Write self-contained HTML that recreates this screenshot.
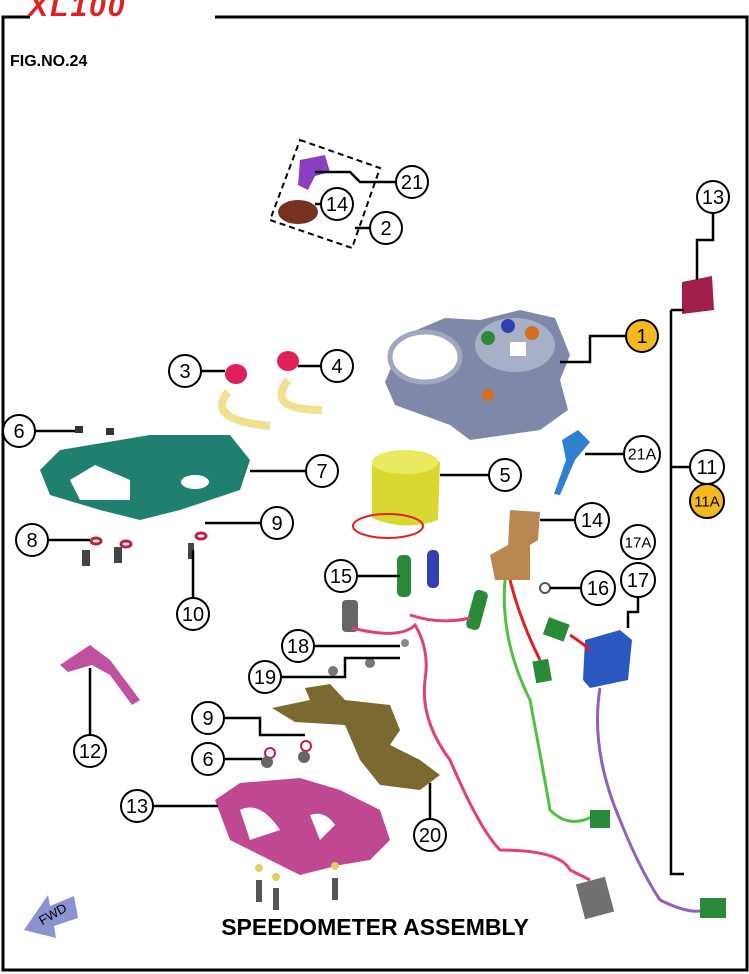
<!DOCTYPE html>
<html><head><meta charset="utf-8"><style>
html,body{margin:0;padding:0;background:#fff}
svg{display:block}
text{font-family:"Liberation Sans",Arial,sans-serif}
.c{fill:#fff;stroke:#000;stroke-width:2}
.t{font-size:20px;text-anchor:middle;dominant-baseline:central}
.l{fill:none;stroke:#000;stroke-width:2.5}
</style></head><body>
<svg width="749" height="974" viewBox="0 0 749 974" xmlns="http://www.w3.org/2000/svg">
<path d="M215 17 H747 V970 H3 V17 H30" fill="none" stroke="#000" stroke-width="3"/>
<text x="28" y="16" font-size="30" font-weight="bold" font-style="italic" fill="#e02020" letter-spacing="2">XL100</text>
<text x="10" y="66" font-size="16" font-weight="bold">FIG.NO.24</text>
<text x="375" y="935" font-size="23" font-weight="bold" text-anchor="middle">SPEEDOMETER ASSEMBLY</text>
<path d="M24 930 L48 895 L50 906 L74 896 L78 918 L54 926 L56 938 Z" fill="#8a92d0"/>
<text x="55" y="918" font-size="13" transform="rotate(-30 55 918)" text-anchor="middle">FWD</text>

<path d="M300 140 L380 168 L352 248 L270 220 Z" fill="none" stroke="#000" stroke-width="2" stroke-dasharray="6,4"/>
<path d="M300 160 L325 155 L330 172 L315 176 L308 190 L298 185 Z" fill="#8a3fc0"/>
<ellipse cx="298" cy="212" rx="20" ry="12" fill="#7a3020"/>
<path d="M682 282 L712 276 L714 310 L682 314 Z" fill="#a0204a"/>
<path d="M385 382 L405 335 L445 318 L480 320 L520 310 L555 318 L570 355 L560 380 L568 410 L540 430 L470 440 L450 425 L395 405 Z" fill="#7f88a8"/>
<ellipse cx="425" cy="357" rx="35" ry="25" fill="#fff" stroke="#a0a8c0" stroke-width="5"/>
<ellipse cx="515" cy="345" rx="40" ry="27" fill="#a8b0c8"/>
<circle cx="488" cy="338" r="7" fill="#2a8a3a"/><circle cx="508" cy="326" r="7" fill="#3040b0"/><circle cx="532" cy="333" r="7" fill="#d07020"/><circle cx="488" cy="395" r="6" fill="#d07020"/>
<rect x="510" y="342" width="16" height="14" fill="#fff"/>
<path d="M228 392 Q205 420 270 426" fill="none" stroke="#f0e090" stroke-width="8"/>
<path d="M288 380 Q265 410 322 410" fill="none" stroke="#f0e090" stroke-width="8"/>
<ellipse cx="236" cy="374" rx="11" ry="10" fill="#e0205a"/>
<ellipse cx="288" cy="361" rx="11" ry="10" fill="#e0205a"/>
<path d="M40 470 L60 450 L120 440 L150 435 L230 435 L250 460 L240 490 L180 510 L140 520 L100 510 L50 495 Z" fill="#1f8070"/>
<path d="M70 480 L95 465 L130 480 L130 500 L80 500 Z" fill="#fff"/>
<ellipse cx="195" cy="482" rx="14" ry="7" fill="#fff"/>
<rect x="75" y="426" width="8" height="7" fill="#333"/><rect x="106" y="428" width="8" height="7" fill="#333"/>
<g fill="#444"><rect x="82" y="550" width="8" height="16"/><rect x="114" y="547" width="8" height="16"/><rect x="188" y="543" width="6" height="16"/></g>
<g fill="none" stroke="#c02040" stroke-width="3"><ellipse cx="96" cy="541" rx="5" ry="3"/><ellipse cx="126" cy="544" rx="5" ry="3"/><ellipse cx="201" cy="536" rx="5" ry="3"/></g>
<path d="M372 465 Q405 445 440 462 L438 520 Q405 532 372 518 Z" fill="#d8d830"/>
<ellipse cx="405" cy="462" rx="33" ry="12" fill="#eaea60"/>
<ellipse cx="388" cy="526" rx="35" ry="12" fill="none" stroke="#e02020" stroke-width="2"/>
<path d="M562 440 L578 430 L590 442 L575 460 L560 495 L554 494 L566 460 Z" fill="#3080d0"/>
<path d="M510 510 L540 512 L538 540 L530 545 L530 580 L495 580 L490 555 L508 545 Z" fill="#b88850"/>
<rect x="397" y="555" width="14" height="42" rx="5" fill="#2a8a3a"/>
<rect x="427" y="550" width="12" height="38" rx="5" fill="#3040b0"/>
<rect x="470" y="590" width="14" height="40" rx="5" fill="#2a8a3a" transform="rotate(15 477 610)"/>
<rect x="342" y="600" width="16" height="32" rx="4" fill="#666"/>
<circle cx="545" cy="588" r="5" fill="none" stroke="#555" stroke-width="2"/>
<path d="M585 640 L620 630 L632 640 L628 680 L590 688 L583 680 Z" fill="#2858c0"/>
<rect x="545" y="620" width="22" height="18" fill="#2a8a3a" transform="rotate(20 555 630)"/>
<g fill="none" stroke-width="3">
<path d="M352 628 Q400 640 415 625 Q430 650 425 680 Q420 720 450 760 Q480 830 500 850 Q560 850 570 870 L590 880" stroke="#e0407a"/>
<path d="M410 615 Q440 625 470 618" stroke="#e0407a"/>
<path d="M505 580 Q500 640 530 700 Q545 780 550 810 Q570 830 595 815" stroke="#50c040"/>
<path d="M510 580 Q520 620 540 660" stroke="#e02020"/>
<path d="M570 635 Q585 645 590 650" stroke="#e02020"/>
<path d="M600 688 Q590 750 620 820 Q640 870 660 900 Q690 915 705 910" stroke="#9060c0"/>
</g>
<rect x="534" y="660" width="16" height="22" fill="#2a8a3a" transform="rotate(-10 542 670)"/>
<rect x="590" y="810" width="20" height="18" fill="#2a8a3a"/>
<rect x="580" y="880" width="30" height="36" fill="#707070" transform="rotate(-15 595 898)"/>
<rect x="700" y="898" width="26" height="20" fill="#2a8a3a"/>
<path d="M60 665 L90 645 L110 660 L140 700 L132 705 L110 675 L92 665 L68 672 Z" fill="#c050a0"/>
<path d="M272 708 L310 700 L305 688 L330 684 L345 700 L390 705 L400 730 L390 745 L420 760 L440 775 L420 790 L380 785 L360 760 L345 725 L295 722 Z" fill="#7a6a30"/>
<circle cx="405" cy="643" r="4" fill="#888"/><circle cx="333" cy="671" r="5" fill="#777"/><circle cx="370" cy="663" r="5" fill="#777"/>
<circle cx="270" cy="753" r="5" fill="none" stroke="#c02040" stroke-width="2"/><circle cx="306" cy="746" r="5" fill="none" stroke="#c02040" stroke-width="2"/>
<circle cx="267" cy="762" r="6" fill="#666"/><circle cx="304" cy="757" r="6" fill="#666"/>
<path d="M215 800 L240 783 L300 778 L340 790 L380 810 L390 840 L370 860 L340 865 L300 875 L270 860 L230 840 Z" fill="#c04890"/>
<path d="M240 810 Q260 800 280 830 L250 840 Z" fill="#fff"/><path d="M310 815 Q325 810 335 825 L320 840 Z" fill="#fff"/>
<g fill="#555"><rect x="256" y="880" width="6" height="22"/><rect x="273" y="888" width="6" height="22"/><rect x="332" y="878" width="6" height="22"/></g>
<g fill="#e0d060"><circle cx="259" cy="868" r="4"/><circle cx="276" cy="877" r="4"/><circle cx="335" cy="866" r="4"/></g>

<g class="l">
<path d="M396 182 H360 L350 172 H315"/>
<path d="M321 204 H315"/>
<path d="M370 228 H355"/>
<path d="M713 213 V240 H697 V280"/>
<path d="M626 336 H590 V362 H560"/>
<path d="M201 371 H225"/>
<path d="M321 366 H298"/>
<path d="M35 431 H75"/>
<path d="M306 471 H250"/>
<path d="M489 475 H440"/>
<path d="M624 454 H585"/>
<path d="M690 467 H671"/>
<path d="M574 520 H540"/>
<path d="M638 597 V612 H628 V628"/>
<path d="M48 540 H90"/>
<path d="M261 523 H205"/>
<path d="M193 598 V550"/>
<path d="M325 576 H400"/>
<path d="M580 588 H550"/>
<path d="M314 646 H400"/>
<path d="M281 677 H345 V658 H400"/>
<path d="M90 735 V668"/>
<path d="M224 718 H260 V735 H305"/>
<path d="M224 759 H262"/>
<path d="M153 806 H218"/>
<path d="M430 819 V783"/>
<path d="M671 310 H684 M671 310 V874 H684" />
</g>
<g>
<circle class="c" cx="412" cy="182" r="16"/><text class="t" x="412" y="183">21</text>
<circle class="c" cx="337" cy="204" r="16"/><text class="t" x="337" y="205">14</text>
<circle class="c" cx="386" cy="228" r="16"/><text class="t" x="386" y="229">2</text>
<circle class="c" cx="713" cy="197" r="16"/><text class="t" x="713" y="198">13</text>
<circle cx="642" cy="336" r="16" fill="#f4b820" stroke="#000" stroke-width="2"/><text class="t" x="642" y="337">1</text>
<circle class="c" cx="185" cy="371" r="16"/><text class="t" x="185" y="372">3</text>
<circle class="c" cx="337" cy="366" r="16"/><text class="t" x="337" y="367">4</text>
<circle class="c" cx="19" cy="431" r="16"/><text class="t" x="19" y="432">6</text>
<circle class="c" cx="322" cy="471" r="16"/><text class="t" x="322" y="472">7</text>
<circle class="c" cx="505" cy="475" r="16"/><text class="t" x="505" y="476">5</text>
<circle class="c" cx="642" cy="454" r="18"/><text class="t" x="642" y="455" style="font-size:16px">21A</text>
<circle class="c" cx="707" cy="467" r="17"/><text class="t" x="707" y="468">11</text>
<circle cx="707" cy="501" r="17" fill="#f4b820" stroke="#000" stroke-width="2"/><text class="t" x="707" y="502" style="font-size:15px">11A</text>
<circle class="c" cx="592" cy="520" r="17"/><text class="t" x="592" y="521">14</text>
<circle class="c" cx="638" cy="542" r="17"/><text class="t" x="638" y="543" style="font-size:15px">17A</text>
<circle class="c" cx="638" cy="580" r="17"/><text class="t" x="638" y="581">17</text>
<circle class="c" cx="32" cy="540" r="16"/><text class="t" x="32" y="541">8</text>
<circle class="c" cx="277" cy="523" r="16"/><text class="t" x="277" y="524">9</text>
<circle class="c" cx="193" cy="614" r="16"/><text class="t" x="193" y="615">10</text>
<circle class="c" cx="341" cy="576" r="16"/><text class="t" x="341" y="577">15</text>
<circle class="c" cx="598" cy="588" r="17"/><text class="t" x="598" y="589">16</text>
<circle class="c" cx="298" cy="646" r="16"/><text class="t" x="298" y="647">18</text>
<circle class="c" cx="265" cy="677" r="16"/><text class="t" x="265" y="678">19</text>
<circle class="c" cx="90" cy="751" r="16"/><text class="t" x="90" y="752">12</text>
<circle class="c" cx="208" cy="718" r="16"/><text class="t" x="208" y="719">9</text>
<circle class="c" cx="208" cy="759" r="16"/><text class="t" x="208" y="760">6</text>
<circle class="c" cx="137" cy="806" r="16"/><text class="t" x="137" y="807">13</text>
<circle class="c" cx="430" cy="835" r="16"/><text class="t" x="430" y="836">20</text>
</g>
</svg>
</body></html>
